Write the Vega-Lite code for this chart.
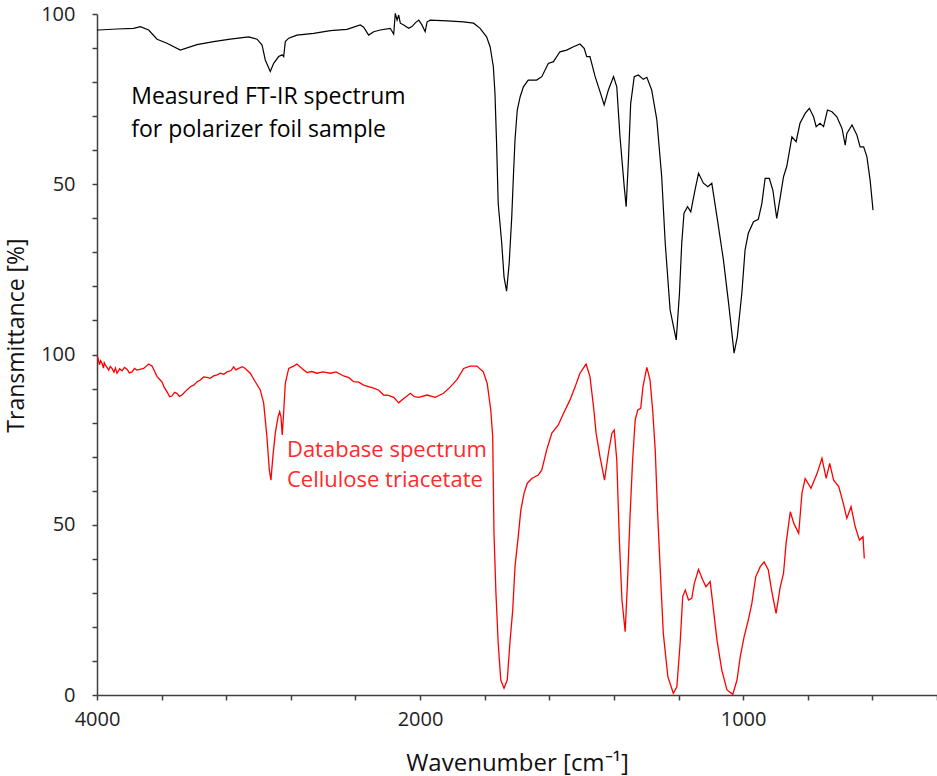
{
  "$schema": "https://vega.github.io/schema/vega-lite/v6.json",
  "width": 840,
  "height": 681,
  "autosize": {"type": "none"},
  "padding": {"left": 97, "top": 14, "right": 0, "bottom": 81},
  "background": "white",
  "config": {"view": {"stroke": null}, "font": "Open Sans"},
  "datasets": {
    "measured": [
      {"wn":4000,"T":95.3},{"wn":3990,"T":95.3},{"wn":3876,"T":95.6},{"wn":3773,"T":95.8},{"wn":3732,"T":96.3},{"wn":3680,"T":95.3},{"wn":3628,"T":92.6},{"wn":3567,"T":91.4},{"wn":3484,"T":89.4},{"wn":3381,"T":91.0},{"wn":3278,"T":91.9},{"wn":3175,"T":92.6},{"wn":3061,"T":93.3},{"wn":3009,"T":92.6},{"wn":2978,"T":90.9},{"wn":2958,"T":86.5},{"wn":2927,"T":83.1},{"wn":2906,"T":85.5},{"wn":2875,"T":87.5},{"wn":2854,"T":88.0},{"wn":2844,"T":87.5},{"wn":2834,"T":91.9},{"wn":2813,"T":92.9},{"wn":2762,"T":93.8},{"wn":2658,"T":94.3},{"wn":2555,"T":95.1},{"wn":2452,"T":95.5},{"wn":2370,"T":96.8},{"wn":2349,"T":96.1},{"wn":2318,"T":93.8},{"wn":2287,"T":94.8},{"wn":2246,"T":95.3},{"wn":2184,"T":95.8},{"wn":2163,"T":94.1},{"wn":2153,"T":100.2},{"wn":2142,"T":98.2},{"wn":2132,"T":99.7},{"wn":2122,"T":97.3},{"wn":2101,"T":96.8},{"wn":2070,"T":95.8},{"wn":2050,"T":96.3},{"wn":2029,"T":97.4},{"wn":2008,"T":98.2},{"wn":1994,"T":96.8},{"wn":1984,"T":94.8},{"wn":1978,"T":97.7},{"wn":1968,"T":98.2},{"wn":1916,"T":98.0},{"wn":1865,"T":97.7},{"wn":1834,"T":97.3},{"wn":1814,"T":95.8},{"wn":1794,"T":93.3},{"wn":1783,"T":90.4},{"wn":1773,"T":84.5},{"wn":1768,"T":76.7},{"wn":1763,"T":62.0},{"wn":1758,"T":44.4},{"wn":1747,"T":32.6},{"wn":1740,"T":22.8},{"wn":1732,"T":18.6},{"wn":1724,"T":26.8},{"wn":1716,"T":40.5},{"wn":1711,"T":52.2},{"wn":1706,"T":63.0},{"wn":1699,"T":71.8},{"wn":1690,"T":75.7},{"wn":1680,"T":78.6},{"wn":1665,"T":80.6},{"wn":1639,"T":80.6},{"wn":1623,"T":81.6},{"wn":1603,"T":85.5},{"wn":1587,"T":86.0},{"wn":1567,"T":88.9},{"wn":1546,"T":89.4},{"wn":1525,"T":90.4},{"wn":1505,"T":91.2},{"wn":1492,"T":89.9},{"wn":1484,"T":87.5},{"wn":1474,"T":87.5},{"wn":1458,"T":81.6},{"wn":1443,"T":77.2},{"wn":1430,"T":73.3},{"wn":1417,"T":77.7},{"wn":1401,"T":81.6},{"wn":1391,"T":78.6},{"wn":1381,"T":63.9},{"wn":1368,"T":49.3},{"wn":1362,"T":43.4},{"wn":1355,"T":57.1},{"wn":1348,"T":73.7},{"wn":1337,"T":81.6},{"wn":1324,"T":82.1},{"wn":1309,"T":80.8},{"wn":1298,"T":81.4},{"wn":1283,"T":77.7},{"wn":1267,"T":68.9},{"wn":1252,"T":52.2},{"wn":1241,"T":32.6},{"wn":1226,"T":13.1},{"wn":1207,"T":4.3},{"wn":1197,"T":18.0},{"wn":1190,"T":32.6},{"wn":1183,"T":41.5},{"wn":1172,"T":43.4},{"wn":1162,"T":41.9},{"wn":1149,"T":48.3},{"wn":1138,"T":53.2},{"wn":1123,"T":50.3},{"wn":1109,"T":49.3},{"wn":1097,"T":50.3},{"wn":1081,"T":40.5},{"wn":1061,"T":27.8},{"wn":1045,"T":15.1},{"wn":1028,"T":0.4},{"wn":1018,"T":5.2},{"wn":1004,"T":18.0},{"wn":994,"T":30.7},{"wn":984,"T":35.6},{"wn":968,"T":39.0},{"wn":953,"T":39.7},{"wn":942,"T":44.4},{"wn":932,"T":51.7},{"wn":919,"T":51.7},{"wn":908,"T":48.3},{"wn":896,"T":40.0},{"wn":885,"T":46.3},{"wn":875,"T":52.2},{"wn":865,"T":55.2},{"wn":849,"T":63.9},{"wn":836,"T":62.5},{"wn":824,"T":67.9},{"wn":808,"T":70.8},{"wn":795,"T":72.3},{"wn":782,"T":69.8},{"wn":774,"T":66.9},{"wn":762,"T":67.9},{"wn":751,"T":66.9},{"wn":739,"T":71.8},{"wn":725,"T":71.3},{"wn":710,"T":69.8},{"wn":694,"T":66.4},{"wn":684,"T":61.5},{"wn":679,"T":64.9},{"wn":663,"T":67.4},{"wn":648,"T":64.5},{"wn":638,"T":61.0},{"wn":627,"T":61.0},{"wn":617,"T":58.1},{"wn":607,"T":51.2},{"wn":598,"T":42.4}
    ],
    "database": [
      {"wn":3998,"T":99.5},{"wn":3994,"T":98.9},{"wn":3985,"T":97.0},{"wn":3978,"T":98.2},{"wn":3969,"T":97.4},{"wn":3960,"T":96.0},{"wn":3955,"T":97.6},{"wn":3948,"T":96.9},{"wn":3938,"T":96.2},{"wn":3928,"T":95.4},{"wn":3918,"T":96.5},{"wn":3907,"T":95.9},{"wn":3895,"T":94.8},{"wn":3886,"T":96.0},{"wn":3876,"T":94.5},{"wn":3860,"T":95.8},{"wn":3845,"T":95.2},{"wn":3830,"T":96.2},{"wn":3814,"T":95.7},{"wn":3800,"T":94.6},{"wn":3783,"T":94.9},{"wn":3768,"T":95.9},{"wn":3752,"T":95.4},{"wn":3711,"T":95.9},{"wn":3680,"T":97.2},{"wn":3659,"T":96.6},{"wn":3628,"T":93.5},{"wn":3610,"T":92.6},{"wn":3598,"T":92.0},{"wn":3585,"T":90.5},{"wn":3567,"T":89.1},{"wn":3550,"T":87.6},{"wn":3536,"T":87.8},{"wn":3520,"T":88.9},{"wn":3505,"T":88.6},{"wn":3490,"T":87.7},{"wn":3474,"T":88.1},{"wn":3443,"T":89.6},{"wn":3420,"T":90.6},{"wn":3401,"T":91.0},{"wn":3380,"T":92.0},{"wn":3360,"T":92.5},{"wn":3340,"T":93.4},{"wn":3319,"T":93.3},{"wn":3300,"T":93.0},{"wn":3278,"T":93.7},{"wn":3255,"T":94.0},{"wn":3237,"T":94.5},{"wn":3215,"T":94.2},{"wn":3195,"T":94.9},{"wn":3170,"T":95.3},{"wn":3154,"T":96.4},{"wn":3140,"T":95.5},{"wn":3123,"T":95.9},{"wn":3100,"T":96.4},{"wn":3082,"T":95.9},{"wn":3051,"T":94.5},{"wn":3020,"T":92.0},{"wn":2989,"T":89.6},{"wn":2968,"T":85.7},{"wn":2948,"T":75.9},{"wn":2933,"T":66.1},{"wn":2923,"T":63.1},{"wn":2911,"T":70.0},{"wn":2896,"T":76.9},{"wn":2879,"T":81.7},{"wn":2869,"T":83.2},{"wn":2861,"T":81.7},{"wn":2853,"T":76.4},{"wn":2844,"T":83.2},{"wn":2834,"T":91.5},{"wn":2813,"T":95.9},{"wn":2782,"T":96.6},{"wn":2762,"T":97.2},{"wn":2731,"T":95.9},{"wn":2700,"T":94.7},{"wn":2670,"T":95.0},{"wn":2638,"T":94.5},{"wn":2600,"T":94.9},{"wn":2555,"T":94.5},{"wn":2520,"T":94.9},{"wn":2473,"T":93.7},{"wn":2440,"T":93.2},{"wn":2411,"T":92.0},{"wn":2380,"T":91.9},{"wn":2349,"T":91.0},{"wn":2320,"T":90.6},{"wn":2287,"T":90.1},{"wn":2255,"T":89.5},{"wn":2225,"T":88.1},{"wn":2195,"T":88.0},{"wn":2163,"T":87.4},{"wn":2132,"T":85.8},{"wn":2101,"T":87.1},{"wn":2080,"T":87.8},{"wn":2060,"T":88.6},{"wn":2035,"T":87.6},{"wn":2008,"T":87.4},{"wn":1978,"T":88.1},{"wn":1953,"T":87.4},{"wn":1927,"T":88.6},{"wn":1906,"T":90.5},{"wn":1885,"T":92.7},{"wn":1865,"T":95.9},{"wn":1845,"T":96.6},{"wn":1824,"T":96.6},{"wn":1804,"T":94.9},{"wn":1792,"T":91.5},{"wn":1781,"T":83.7},{"wn":1775,"T":75.9},{"wn":1771,"T":47.5},{"wn":1765,"T":29.9},{"wn":1758,"T":15.2},{"wn":1750,"T":4.4},{"wn":1740,"T":2.0},{"wn":1730,"T":4.4},{"wn":1721,"T":16.2},{"wn":1713,"T":25.0},{"wn":1706,"T":37.7},{"wn":1696,"T":46.5},{"wn":1688,"T":54.3},{"wn":1678,"T":59.2},{"wn":1668,"T":62.2},{"wn":1654,"T":63.6},{"wn":1634,"T":64.6},{"wn":1623,"T":66.1},{"wn":1608,"T":72.0},{"wn":1592,"T":76.9},{"wn":1572,"T":79.3},{"wn":1556,"T":82.7},{"wn":1536,"T":86.6},{"wn":1520,"T":90.5},{"wn":1505,"T":94.5},{"wn":1486,"T":97.2},{"wn":1474,"T":93.5},{"wn":1463,"T":84.7},{"wn":1455,"T":76.9},{"wn":1443,"T":70.0},{"wn":1429,"T":63.1},{"wn":1417,"T":71.0},{"wn":1406,"T":76.9},{"wn":1399,"T":77.8},{"wn":1391,"T":69.0},{"wn":1383,"T":45.5},{"wn":1375,"T":27.9},{"wn":1365,"T":18.6},{"wn":1358,"T":32.8},{"wn":1350,"T":52.4},{"wn":1342,"T":69.0},{"wn":1334,"T":80.8},{"wn":1326,"T":83.7},{"wn":1317,"T":84.2},{"wn":1310,"T":90.5},{"wn":1298,"T":96.2},{"wn":1288,"T":92.5},{"wn":1280,"T":83.7},{"wn":1272,"T":72.0},{"wn":1265,"T":54.3},{"wn":1257,"T":37.7},{"wn":1247,"T":18.1},{"wn":1233,"T":5.4},{"wn":1216,"T":0.5},{"wn":1205,"T":2.4},{"wn":1195,"T":15.2},{"wn":1187,"T":28.9},{"wn":1179,"T":30.8},{"wn":1169,"T":27.9},{"wn":1159,"T":28.4},{"wn":1151,"T":32.8},{"wn":1138,"T":36.9},{"wn":1125,"T":33.8},{"wn":1115,"T":31.8},{"wn":1102,"T":33.3},{"wn":1094,"T":26.9},{"wn":1081,"T":16.2},{"wn":1066,"T":7.3},{"wn":1050,"T":1.5},{"wn":1032,"T":0.2},{"wn":1019,"T":4.4},{"wn":1009,"T":11.2},{"wn":997,"T":17.1},{"wn":984,"T":22.0},{"wn":973,"T":26.9},{"wn":961,"T":34.7},{"wn":947,"T":37.7},{"wn":935,"T":39.1},{"wn":922,"T":36.7},{"wn":912,"T":30.8},{"wn":898,"T":24.0},{"wn":885,"T":31.8},{"wn":875,"T":35.7},{"wn":867,"T":44.6},{"wn":854,"T":53.8},{"wn":843,"T":50.4},{"wn":828,"T":47.5},{"wn":818,"T":59.2},{"wn":808,"T":63.6},{"wn":790,"T":60.7},{"wn":771,"T":65.1},{"wn":756,"T":69.5},{"wn":743,"T":63.6},{"wn":732,"T":68.0},{"wn":720,"T":63.1},{"wn":704,"T":61.2},{"wn":690,"T":56.3},{"wn":679,"T":51.9},{"wn":666,"T":55.3},{"wn":653,"T":49.4},{"wn":640,"T":45.5},{"wn":629,"T":46.5},{"wn":625,"T":40.1}
    ],
    "measuredLabel": [
      {"wn":3788,"T":73.5,"text":"Measured FT-IR spectrum"},
      {"wn":3788,"T":64.0,"text":"for polarizer foil sample"}
    ],
    "databaseLabel": [
      {"wn":2824,"T":70.0,"text":"Database spectrum"},
      {"wn":2824,"T":61.2,"text":"Cellulose triacetate"}
    ]
  },
  "encoding": {
    "x": {
      "field": "wn",
      "type": "quantitative",
      "scale": {"domain": [4000, 2000, 400], "range": [0, 323, 840], "nice": false, "zero": false},
      "axis": {
        "title": "Wavenumber [cm⁻¹]",
        "values": [4000, 3600, 3200, 2800, 2400, 2000, 1800, 1600, 1400, 1200, 1000, 800, 600, 400],
        "labelExpr": "datum.value == 4000 || datum.value == 2000 || datum.value == 1000 ? '' + datum.value : ''",
        "labelFlush": false,
        "labelOverlap": false,
        "labelFont": "Open Sans",
        "labelFontSize": 20,
        "labelColor": "#222222",
        "labelPadding": 9,
        "tickSize": 5,
        "tickColor": "#404040",
        "tickWidth": 1.5,
        "domainColor": "#404040",
        "domainWidth": 1.5,
        "grid": false,
        "titleFont": "Open Sans",
        "titleFontSize": 24,
        "titleFontWeight": "normal",
        "titleColor": "#111111",
        "titlePadding": 22
      }
    }
  },
  "layer": [
    {
      "encoding": {
        "y": {
          "field": "T",
          "type": "quantitative",
          "scale": {"domain": [0, 200], "nice": false, "zero": false},
          "axis": {
            "orient": "left",
            "title": "Transmittance [%]",
            "values": [0, 10, 20, 30, 40, 50, 60, 70, 80, 90, 100, 110, 120, 130, 140, 150, 160, 170, 180, 190, 200],
            "labelExpr": "datum.value == 0 ? '0' : datum.value == 50 ? '50' : datum.value == 100 ? '100' : datum.value == 150 ? '50' : datum.value == 200 ? '100' : ''",
            "labelOverlap": false,
            "labelFlush": false,
            "labelFont": "Open Sans",
            "labelFontSize": 20,
            "labelColor": "#222222",
            "labelPadding": 17,
            "tickSize": 5,
            "tickColor": "#404040",
            "tickWidth": 1.5,
            "domainColor": "#404040",
            "domainWidth": 1.5,
            "grid": false,
            "titleFont": "Open Sans",
            "titleFontSize": 23,
            "titleFontWeight": "normal",
            "titleColor": "#111111",
            "titleAngle": -90,
            "titleAlign": "center",
            "titleBaseline": "middle",
            "titleX": -81,
            "titleY": 321
          }
        }
      },
      "layer": [
        {
          "data": {"name": "database"},
          "mark": {"type": "line", "color": "#ff0000", "strokeWidth": 1.3, "interpolate": "linear"}
        },
        {
          "data": {"name": "databaseLabel"},
          "mark": {"type": "text", "align": "left", "baseline": "alphabetic", "font": "Open Sans", "fontSize": 22, "color": "#ff2a2a"},
          "encoding": {"text": {"field": "text"}}
        }
      ]
    },
    {
      "encoding": {
        "y": {
          "field": "T",
          "type": "quantitative",
          "scale": {"domain": [-100, 100], "nice": false, "zero": false},
          "axis": null
        }
      },
      "layer": [
        {
          "data": {"name": "measured"},
          "mark": {"type": "line", "color": "#000000", "strokeWidth": 1.2, "interpolate": "linear"}
        },
        {
          "data": {"name": "measuredLabel"},
          "mark": {"type": "text", "align": "left", "baseline": "alphabetic", "font": "Open Sans", "fontSize": 23, "color": "#000000"},
          "encoding": {"text": {"field": "text"}}
        }
      ]
    }
  ],
  "resolve": {"scale": {"y": "independent"}, "axis": {"y": "independent"}}
}
